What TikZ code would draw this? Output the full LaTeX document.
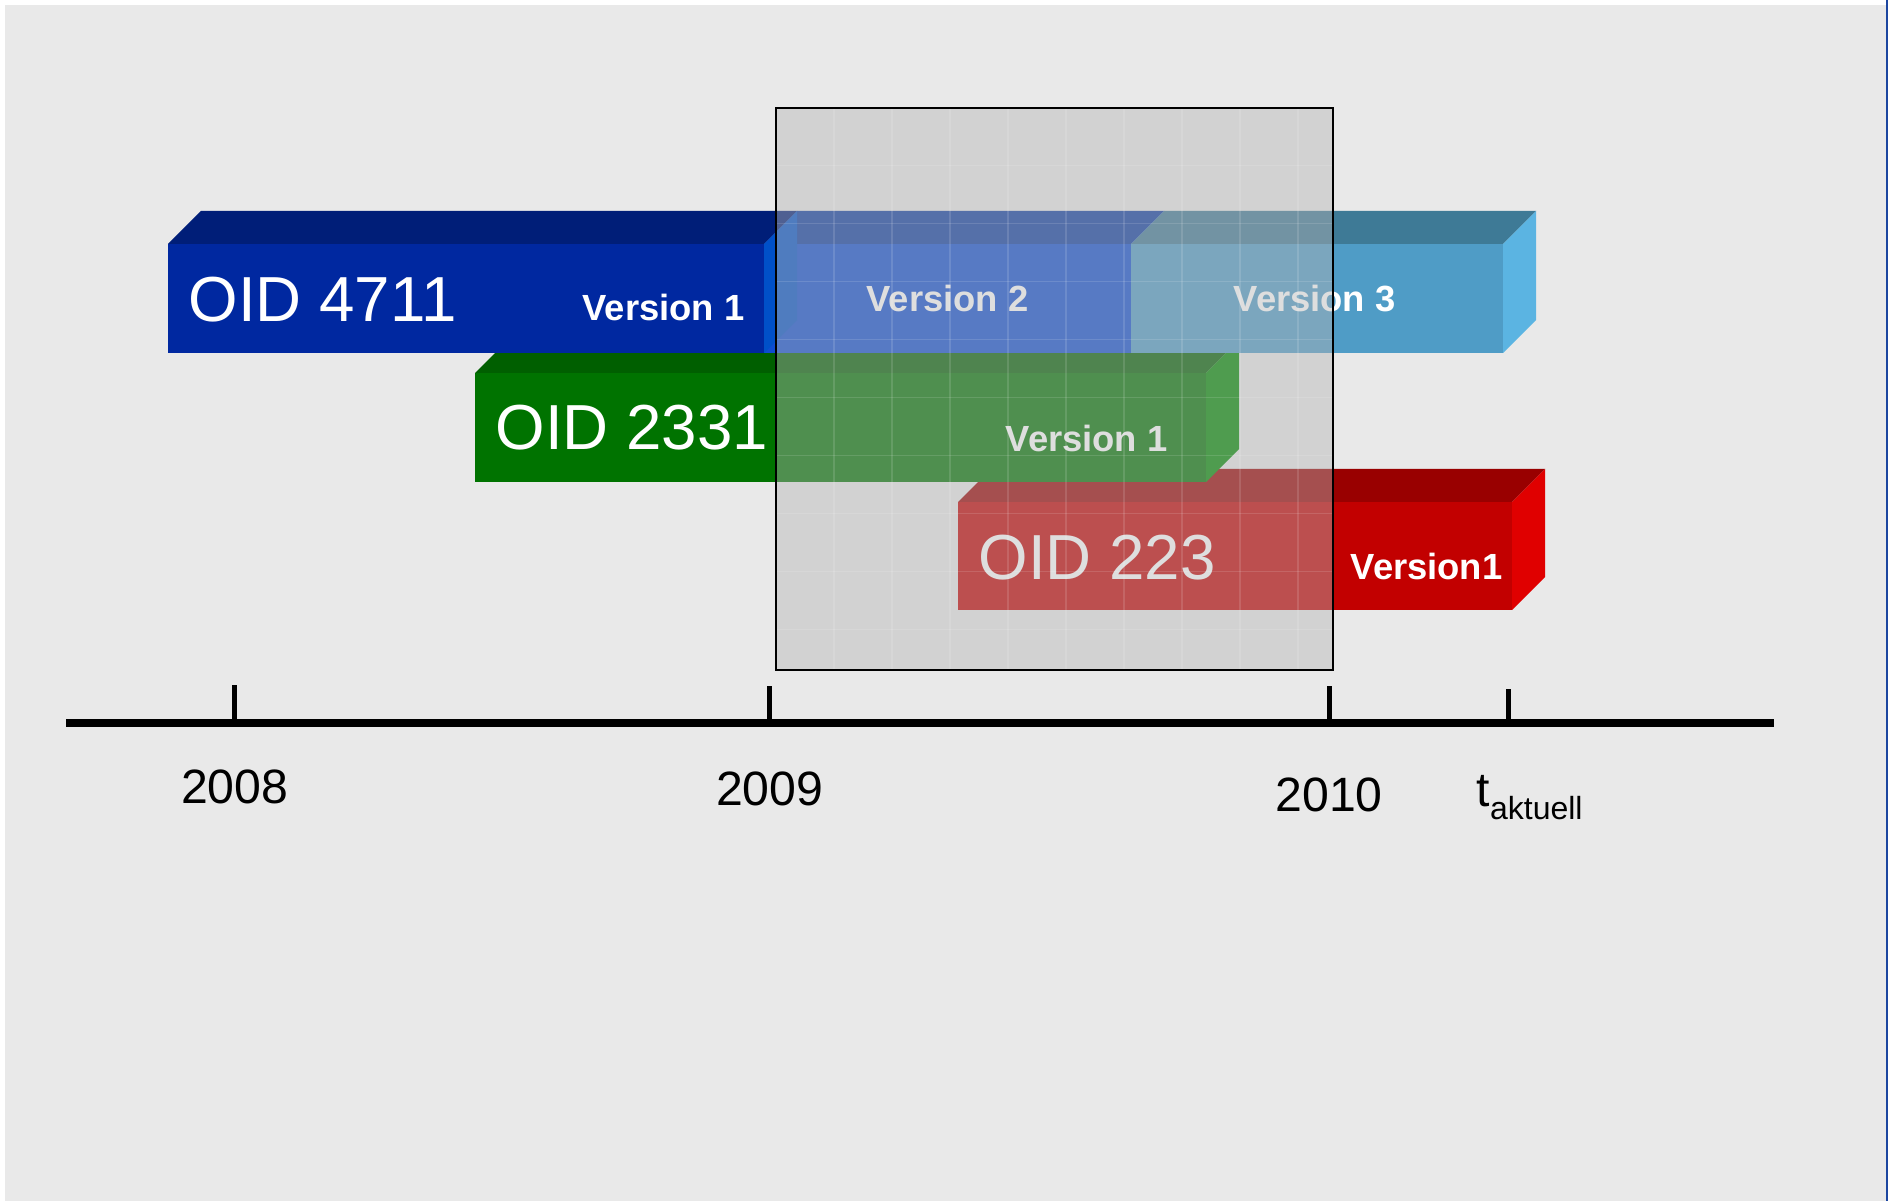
\documentclass[tikz,border=0pt]{standalone}
\usepackage{fontspec}
\setmainfont{Liberation Sans}
\definecolor{bggray}{HTML}{E9E9E9}
\definecolor{framegray}{HTML}{B5B5B5}
\definecolor{edgeblue}{HTML}{1C46A0}
\definecolor{vOneFront}{HTML}{0028A0}
\definecolor{vOneTop}{HTML}{001E78}
\definecolor{vOneSide}{HTML}{0050C8}
\definecolor{vTwoFront}{HTML}{0E4CD0}
\definecolor{vTwoTop}{HTML}{0A3AA0}
\definecolor{vTwoSide}{HTML}{2A6AE0}
\definecolor{vThreeFront}{HTML}{4F9CC6}
\definecolor{vThreeTop}{HTML}{3E7A96}
\definecolor{vThreeSide}{HTML}{5BB4E2}
\definecolor{greenFront}{HTML}{007300}
\definecolor{greenTop}{HTML}{005F00}
\definecolor{greenSide}{HTML}{008A00}
\definecolor{redFront}{HTML}{C20000}
\definecolor{redTop}{HTML}{990000}
\definecolor{redSide}{HTML}{E00000}
\tikzset{every node/.style={inner sep=0pt}, % Text sits exactly on its anchor
oid label/.style={ % Big object id on the front face
text=white, anchor=base west,
font=\fontsize{18.1pt}{20pt}\selectfont},
version label/.style={ % Version name on a segment
text=white, anchor=base west,
font=\bfseries\fontsize{10.35pt}{12pt}\selectfont},
year label/.style={ % Labels under the time axis
anchor=base, font=\fontsize{13.7pt}{16pt}\selectfont},
axistick/.style={line width=0.05cm},
gridline/.style={white, opacity=0.13, line width=0.015cm}}
% 3D bar: x left, x right, y top, y bottom, front, top, side colour
\newcommand{\quader}[7]{%
\fill[#5] (#1,#3) rectangle (#2,#4);
\fill[#6] (#1,#3) -- ({#1+33},{#3-33}) -- ({#2+33},{#3-33}) -- (#2,#3) -- cycle;
\fill[#7] (#2,#3) -- ({#2+33},{#3-33}) -- ({#2+33},{#4-33}) -- (#2,#4) -- cycle;}
\begin{document}
\begin{tikzpicture}[x=0.01cm, y=-0.01cm]
    \useasboundingbox (0,0) rectangle (1895,1201);
    \fill[white] (0,0) rectangle (1895,1201);
    \fill[bggray] (5,5) rectangle (1886,1201);
    \draw[edgeblue, line width=0.025cm] (1887,0) -- (1887,1201);
    
    % bars, back to front
    \quader{958}{1512}{502}{610}{redFront}{redTop}{redSide}
    \quader{475}{1206}{373}{482}{greenFront}{greenTop}{greenSide}
    \quader{764}{1131}{244}{353}{vTwoFront}{vTwoTop}{vTwoSide}
    \quader{1131}{1503}{244}{353}{vThreeFront}{vThreeTop}{vThreeSide}
    \quader{168}{764}{244}{353}{vOneFront}{vOneTop}{vOneSide}
    
    \node[oid label] (oid4711) at (188,322) {OID 4711};
    \node[version label] (v1blue) at (582,321) {Version 1};
    \node[version label] (v2blue) at (866,312) {Version 2};
    \node[version label] (v3blue) at (1233,312) {Version 3};
    \node[oid label] (oid2331) at (495,450) {OID 2331};
    \node[version label] (v1green) at (1005,452) {Version 1};
    \node[oid label] (oid223) at (978,580) {OID 223};
    \node[version label] (v1red) at (1350,580) {Version1};
    
    % time window with grid
    \coordinate (win-nw) at (776,107.6);
    \coordinate (win-se) at (1333,670);
    \fill[framegray, opacity=0.44] (win-nw) rectangle (win-se);
    \foreach \i in {1,...,9} {
        \draw[gridline] ({776+58*\i},107.6) -- ({776+58*\i},670);
        \draw[gridline] (776,{107.6+58*\i}) -- (1333,{107.6+58*\i});
    }
    \draw[line width=0.02cm] (win-nw) rectangle (win-se);
    
    % time axis
    \coordinate (axl) at (66,723);
    \coordinate (axr) at (1774,723);
    \draw[line width=0.08cm] (axl) -- (axr);
    \coordinate (t2008) at (234.6,723);
    \coordinate (t2009) at (769.8,723);
    \coordinate (t2010) at (1329,723);
    \coordinate (tnow) at (1508,723);
    \draw[axistick] (t2008) -- ++(0,-38);
    \draw[axistick] (t2009) -- ++(0,-37);
    \draw[axistick] (t2010) -- ++(0,-37);
    \draw[axistick] (tnow) -- ++(0,-34);
    
    \node[year label] (l2008) at (234.6,803.5) {2008};
    \node[year label] (l2009) at (769.6,805.6) {2009};
    \node[year label] (l2010) at (1329,811) {2010};
    \node[year label, anchor=base west] (lnow) at (1476,806.4) {t\raisebox{-0.13cm}{\fontsize{9.1pt}{11pt}\selectfont aktuell}};
    
\end{tikzpicture}
\end{document}
